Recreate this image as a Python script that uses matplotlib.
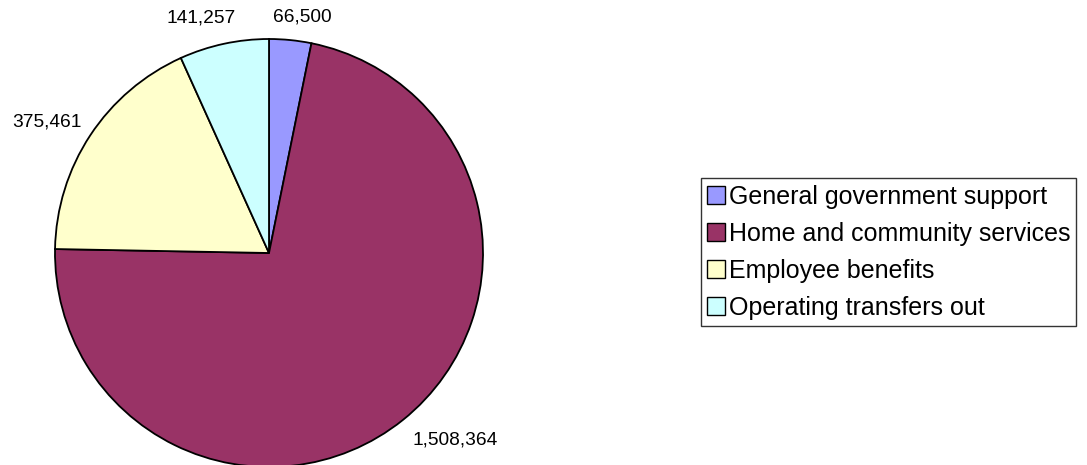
import matplotlib
matplotlib.use("Agg")
import matplotlib.pyplot as plt
from matplotlib.patches import Patch

categories = ["General government support", "Home and community services",
              "Employee benefits", "Operating transfers out"]
values = [66500, 1508364, 375461, 141257]
value_labels = ["66,500", "1,508,364", "375,461", "141,257"]
colors = ["#9999FF", "#993366", "#FFFFCC", "#CCFFFF"]

# label placement (pie-radius units, relative to centre)
label_pos = [(0.154, 1.103), (0.869, -0.874), (-1.040, 0.612), (-0.318, 1.100)]

plt.rcParams['font.family'] = ['Liberation Sans', 'DejaVu Sans']

W, H = 1087, 465
fig = plt.figure(figsize=(W / 100, H / 100), dpi=100)
cx, cy, r = 269, 253, 214
ax = fig.add_axes([(cx - r) / W, (H - cy - r) / H, 2 * r / W, 2 * r / H])
wedges, _ = ax.pie(values, colors=colors, startangle=90, counterclock=False,
                   radius=1, wedgeprops=dict(edgecolor="black", linewidth=1.3))
ax.set_xlim(-1, 1)
ax.set_ylim(-1, 1)
ax.set_aspect('equal')
ax.axis('off')
for (x, y), lab in zip(label_pos, value_labels):
    ax.text(x, y, lab, ha='center', va='center', fontsize=13.8, color='black',
            clip_on=False)

handles = [Patch(facecolor=c, edgecolor='black', linewidth=1) for c in colors]
leg = fig.legend(handles, categories, loc='center',
                 bbox_to_anchor=(888.5 / W, 1 - 252 / H),
                 fontsize=18, frameon=True, fancybox=False,
                 handlelength=0.72, handleheight=0.72, handletextpad=0.15,
                 labelspacing=0.52, borderpad=0.25, borderaxespad=0)
leg.get_frame().set_edgecolor('black')
leg.get_frame().set_linewidth(1)

fig.savefig("out.png", dpi=100)
